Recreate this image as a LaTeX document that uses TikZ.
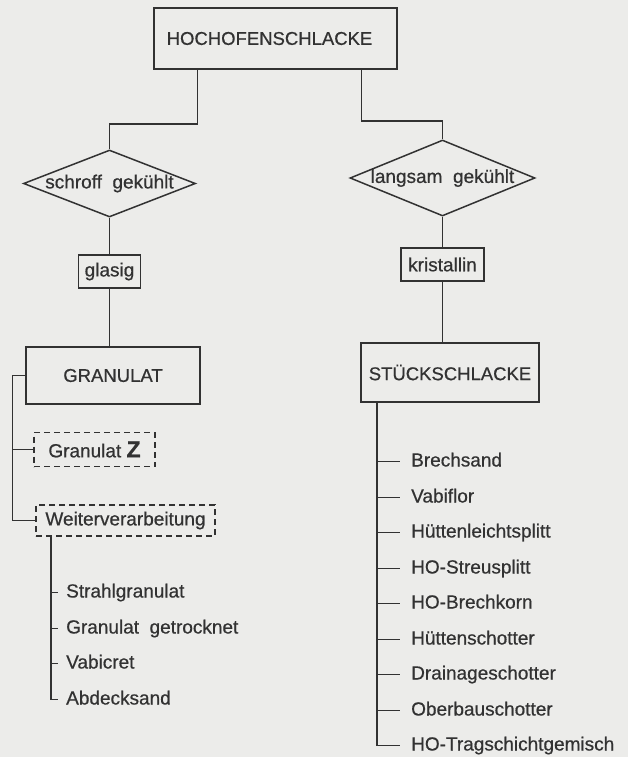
\documentclass[tikz,border=0pt]{standalone}
\usepackage{fontspec}
\setmainfont{Liberation Sans}[FakeBold=0.6]
\usetikzlibrary{shapes.geometric,calc}
\definecolor{bgc}{RGB}{236,236,234}
\definecolor{ink}{RGB}{50,50,50}
\begin{document}
\begin{tikzpicture}[x=1pt,y=-1pt,
  every node/.style={font=\fontsize{19}{22}\selectfont, text=ink},
  box/.style={draw=ink, line width=1.6pt, inner sep=0pt},
  bigbox/.style={box, font=\fontsize{18.5}{22}\selectfont},
  dbox/.style={draw=ink, line width=1.4pt, dash pattern=on 6pt off 4pt, inner sep=0pt},
  dia/.style={draw=ink, line width=1.5pt, shape=diamond, inner sep=0pt},
  item/.style={anchor=west, inner sep=0pt, text height=14pt, text depth=4pt},
  conn/.style={draw=ink, line width=1.6pt}]
\fill[bgc] (0,0) rectangle (628,757);
% main boxes
\node[bigbox, minimum width=243pt, minimum height=61pt] (hoch) at (275.5,38.5) {\hspace*{-12pt}HOCHOFENSCHLACKE};
\node[dia, minimum width=172pt, minimum height=67pt] (sd) at (109.5,183.5) {\makebox[0pt]{schroff\ \ gekühlt}};
\node[dia, minimum width=185pt, minimum height=76pt] (ld) at (442.5,178) {\makebox[0pt]{langsam\ \ gekühlt}};
\node[box, minimum width=62pt, minimum height=33pt] (gl) at (109.5,271.5) {glasig};
\node[box, minimum width=83pt, minimum height=33pt] (kr) at (442.5,264.5) {kristallin};
\node[bigbox, minimum width=174pt, minimum height=57pt] (gran) at (113,375.5) {GRANULAT};
\node[bigbox, minimum width=178pt, minimum height=59pt] (stue) at (450,372.5) {STÜCKSCHLACKE};
\node[dbox, minimum width=121pt, minimum height=34pt] (gz) at (94.5,449.5) {Granulat\ {\fontsize{23}{23}\selectfont\bfseries Z}};
\node[dbox, minimum width=179pt, minimum height=31pt] (wv) at (125.5,520.5) {Weiterverarbeitung};
% left items
\node[item] (a1) at (66,592.5) {Strahlgranulat};
\node[item] (a2) at (66,628.5) {Granulat\ \ getrocknet};
\node[item] (a3) at (66,663.5) {Vabicret};
\node[item] (a4) at (66,699.5) {Abdecksand};
% right items
\node[item] (b1) at (411,461.5) {Brechsand};
\node[item] (b2) at (411,497.5) {Vabiflor};
\node[item] (b3) at (411,532.5) {Hüttenleichtsplitt};
\node[item] (b4) at (411,568.5) {HO-Streusplitt};
\node[item] (b5) at (411,603.5) {HO-Brechkorn};
\node[item] (b6) at (411,639.5) {Hüttenschotter};
\node[item] (b7) at (411,674.5) {Drainageschotter};
\node[item] (b8) at (411,710.5) {Oberbauschotter};
\node[item] (b9) at (411,745.5) {HO-Tragschichtgemisch};
% connectors
\draw[conn] ([xshift=-78pt]hoch.south) -- ++(0,54) -| (sd.north);
\draw[conn] ([xshift=86pt]hoch.south) -- ++(0,51) -| (ld.north);
\draw[conn] (sd.south) -- (gl.north);
\draw[conn] (gl.south) -- (gl.south |- gran.north);
\draw[conn] (ld.south) -- (kr.north);
\draw[conn] (kr.south) -- (kr.south |- stue.north);
\coordinate (lb) at (12.5,0);
\draw[conn] (gran.west) -- (gran.west -| lb) |- (wv.west);
\draw[conn] (gz.west -| lb) -- (gz.west);
\coordinate (lt) at ([xshift=15.5pt]wv.south west);
\draw[conn] (lt) |- ([xshift=-8pt]a4.west);
\foreach \n in {a1,a2,a3}{\draw[conn] (\n.west -| lt) -- ([xshift=-8pt]\n.west);}
\coordinate (rt) at ([xshift=16.5pt]stue.south west);
\draw[conn] (rt) |- ([xshift=-11pt]b9.west);
\foreach \n in {b1,b2,b3,b4,b5,b6,b7,b8}{\draw[conn] (\n.west -| rt) -- ([xshift=-11pt]\n.west);}
\end{tikzpicture}
\end{document}
